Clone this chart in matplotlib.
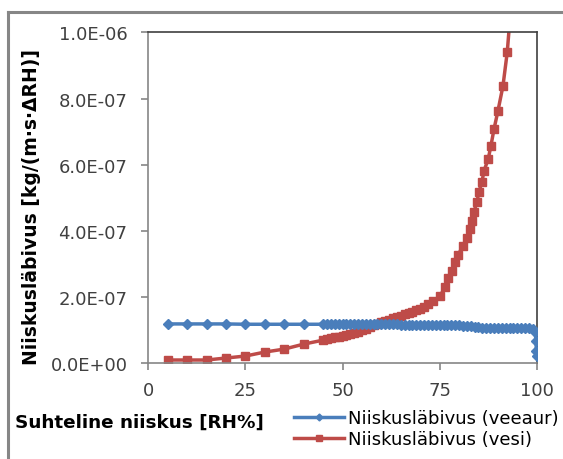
import matplotlib.pyplot as plt
from matplotlib.lines import Line2D
from matplotlib.ticker import FuncFormatter

# Niiskusläbivus (veeaur)
rh_veeaur = [5, 10, 15, 20, 25, 30, 35, 40, 45,
             46, 47, 48, 49, 50, 51, 52, 53, 54, 55, 56, 57, 58, 59, 60,
             61, 62, 63, 64, 65, 66, 67, 68, 69, 70, 71, 72, 73, 74, 75,
             76, 77, 78, 79, 80, 81, 82, 83, 84, 85, 86, 87, 88, 89, 90,
             91, 92, 93, 94, 95, 96, 97, 98, 99, 99.6, 99.8, 99.9, 100]
veeaur = [1.19e-7, 1.19e-7, 1.19e-7, 1.19e-7, 1.18e-7, 1.18e-7, 1.18e-7, 1.18e-7, 1.18e-7,
          1.19e-7, 1.19e-7, 1.19e-7, 1.19e-7, 1.19e-7, 1.19e-7, 1.19e-7, 1.19e-7, 1.19e-7,
          1.19e-7, 1.19e-7, 1.18e-7, 1.18e-7, 1.18e-7, 1.18e-7, 1.18e-7, 1.18e-7, 1.18e-7,
          1.18e-7, 1.17e-7, 1.17e-7, 1.17e-7, 1.17e-7, 1.17e-7, 1.17e-7, 1.17e-7, 1.17e-7,
          1.17e-7, 1.17e-7, 1.16e-7, 1.16e-7, 1.16e-7, 1.16e-7, 1.16e-7, 1.15e-7, 1.14e-7,
          1.13e-7, 1.12e-7, 1.10e-7, 1.09e-7, 1.08e-7, 1.08e-7, 1.08e-7, 1.07e-7, 1.07e-7,
          1.07e-7, 1.06e-7, 1.06e-7, 1.06e-7, 1.06e-7, 1.06e-7, 1.06e-7, 1.07e-7, 1.05e-7,
          0.95e-7, 0.67e-7, 0.37e-7, 0.22e-7]

# Niiskusläbivus (vesi)
rh_vesi = [5, 10, 15, 20, 25, 30, 35, 40, 45,
           46, 47, 48, 49, 50, 51, 52, 53, 54, 55, 56, 57, 58, 59, 60,
           61, 62, 63, 64, 65, 66, 67, 68, 69, 70, 71, 72, 73.3,
           75.1, 76.4, 77.2, 78.2, 79.0, 79.7, 81.0, 82.0, 82.8, 83.3, 83.8,
           84.6, 85.1, 85.9, 86.4, 87.5, 88.2, 89.0, 90.0, 91.3, 92.4, 93.5]
vesi = [1.0e-8, 1.0e-8, 1.0e-8, 1.6e-8, 2.2e-8, 3.4e-8, 4.3e-8, 5.8e-8, 7.0e-8,
        7.3e-8, 7.6e-8, 7.9e-8, 8.1e-8, 8.4e-8, 8.6e-8, 8.9e-8, 9.2e-8, 9.6e-8,
        1.00e-7, 1.05e-7, 1.10e-7, 1.15e-7, 1.20e-7, 1.24e-7, 1.28e-7, 1.32e-7,
        1.36e-7, 1.40e-7, 1.44e-7, 1.48e-7, 1.52e-7, 1.56e-7, 1.60e-7, 1.65e-7,
        1.71e-7, 1.78e-7, 1.88e-7,
        2.03e-7, 2.31e-7, 2.58e-7, 2.79e-7, 3.06e-7, 3.27e-7, 3.54e-7, 3.79e-7,
        4.06e-7, 4.30e-7, 4.57e-7, 4.87e-7, 5.18e-7, 5.48e-7, 5.81e-7, 6.17e-7,
        6.57e-7, 7.08e-7, 7.62e-7, 8.38e-7, 9.40e-7, 1.10e-6]

x_ticks = [0, 25, 50, 75, 100]
y_ticks = [0, 2e-7, 4e-7, 6e-7, 8e-7, 1e-6]

blue = '#4A7EBB'
red = '#BE4B48'
gray = '#868686'

fig = plt.figure(figsize=(5.63, 4.60), dpi=100)
ax = fig.add_axes([0.2634, 0.208, 0.690, 0.7196])

ax.plot(rh_veeaur, veeaur, color=blue, lw=2.5, marker='D', ms=5,
        mec=blue, mfc=blue, label='Niiskusläbivus (veeaur)', zorder=3)
ax.plot(rh_vesi, vesi, color=red, lw=2.5, marker='s', ms=6,
        mec=red, mfc=red, label='Niiskusläbivus (vesi)', zorder=2)

ax.set_xlim(0, 100)
ax.set_ylim(0, 1e-6)
ax.set_xticks(x_ticks)
ax.set_yticks(y_ticks)
ax.yaxis.set_major_formatter(FuncFormatter(lambda v, p: f'{v:.1E}'))

for side in ['left', 'bottom']:
    ax.spines[side].set_color(gray)
    ax.spines[side].set_linewidth(1.2)
for side in ['top', 'right']:
    ax.spines[side].set_color('#404040')
    ax.spines[side].set_linewidth(1.2)
ax.tick_params(direction='out', length=5, width=1.2, color=gray,
               labelsize=13, labelcolor='#404040')
ax.tick_params(axis='y', pad=10)
ax.tick_params(axis='x', pad=8)

ax.set_ylabel('Niiskusläbivus [kg/(m·s·ΔRH)]', fontsize=13.5, fontweight='bold')
ax.yaxis.set_label_coords(-0.276, 0.475)
fig.text(0.027, 0.082, 'Suhteline niiskus [RH%]', fontsize=13.2, fontweight='bold',
         ha='left', va='center')

ax.legend(loc='upper left', bbox_to_anchor=(0.522, 0.108), bbox_transform=fig.transFigure,
          frameon=False, fontsize=13, handlelength=2.8, handletextpad=0.2,
          labelspacing=0.15, borderaxespad=0, borderpad=0, markerscale=0.7)

# outer chart frame
fig.add_artist(Line2D([0.0142, 1.0], [0.9717, 0.9717], color=gray, lw=2.2))
fig.add_artist(Line2D([0.0142, 0.0142], [0.0, 0.9717], color=gray, lw=2.2))

fig.savefig('out.png', dpi=100)
